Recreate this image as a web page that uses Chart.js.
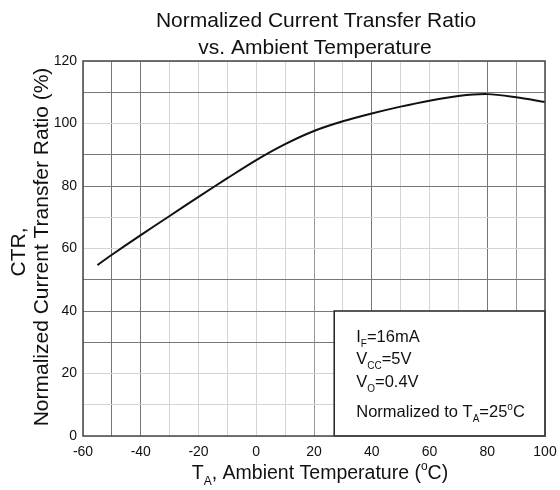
<!DOCTYPE html>
<html lang="en">
<head>
    <meta charset="UTF-8">
    <title>Normalized Current Transfer Ratio vs. Ambient Temperature</title>
    <script src="https://cdn.jsdelivr.net/npm/chart.js"></script>
    <style>
        html, body { margin: 0; padding: 0; background: #fff; }
        #wrap { width: 560px; height: 490px; position: relative; }
    </style>
</head>
<body>
    <div id="wrap"><canvas id="ctrChart"></canvas></div>
    <script>
        // Data
        const temps = [-55, -50, -40, -30, -20, -10, 0, 10, 20, 30, 40, 50, 60, 70, 80, 90, 100];
        const ctrValues = [54.7, 58, 64.3, 70.4, 76.5, 82.5, 88.3, 93.4, 97.6, 100.7, 103.2, 105.4, 107.3, 108.8, 109.4, 108.4, 106.9];
        const xTicks = [-60, -40, -20, 0, 20, 40, 60, 80, 100];
        const yTicks = [0, 20, 40, 60, 80, 100, 120];
        const darkX = [-50, -40, 40, 80];
        const midX = [20, 90];
        const darkY = [30, 40, 50, 80, 90, 110];

        const FONT = '"Liberation Sans", Arial, sans-serif';
        const TXT = '#111';

        // draws text with subscripts/superscripts: parts = [[text, 'n'|'sub'|'sup'], ...]
        function richText(ctx, parts, x, y, size, align) {
            let total = 0;
            parts.forEach(p => {
                ctx.font = (p[1] === 'n' ? size : Math.round(size * 0.6)) + 'px ' + FONT;
                total += ctx.measureText(p[0]).width;
            });
            let cx = align === 'center' ? x - total / 2 : x;
            ctx.textAlign = 'left';
            ctx.textBaseline = 'alphabetic';
            parts.forEach(p => {
                const small = p[1] !== 'n';
                ctx.font = (small ? Math.round(size * 0.6) : size) + 'px ' + FONT;
                let dy = 0;
                if (p[1] === 'sub') dy = size * 0.32;
                if (p[1] === 'sup') dy = -size * 0.45;
                ctx.fillText(p[0], cx, y + dy);
                cx += ctx.measureText(p[0]).width;
            });
        }

        const decorPlugin = {
            id: 'decor',
            afterDraw(chart) {
                const ctx = chart.ctx;
                const a = chart.chartArea;
                ctx.save();
                ctx.fillStyle = TXT;

                // title
                ctx.font = '21px ' + FONT;
                ctx.textAlign = 'center';
                ctx.textBaseline = 'alphabetic';
                const cx = (a.left + a.right) / 2;
                ctx.fillText('Normalized Current Transfer Ratio', cx + 2, 27);
                ctx.fillText('vs. Ambient Temperature', cx + 1, 54);

                // y axis title (two lines, rotated)
                ctx.save();
                ctx.translate(25, 252);
                ctx.rotate(-Math.PI / 2);
                ctx.font = '21px ' + FONT;
                ctx.textAlign = 'center';
                ctx.fillText('CTR,', 0, 0);
                ctx.restore();
                ctx.save();
                ctx.translate(48, 247);
                ctx.rotate(-Math.PI / 2);
                ctx.font = '21px ' + FONT;
                ctx.textAlign = 'center';
                ctx.fillText('Normalized Current Transfer Ratio (%)', 0, 0);
                ctx.restore();

                // x axis title
                richText(ctx, [['T', 'n'], ['A', 'sub'], [', Ambient Temperature (', 'n'], ['o', 'sup'], ['C)', 'n']],
                    cx + 6, 479, 19.5, 'center');

                // condition box
                const bx = chart.scales.x.getPixelForValue(27);
                const by = chart.scales.y.getPixelForValue(40);
                ctx.fillStyle = '#fff';
                ctx.fillRect(bx, by, a.right - bx, a.bottom - by);
                ctx.strokeStyle = '#222';
                ctx.lineWidth = 1.5;
                ctx.strokeRect(bx, by, a.right - bx, a.bottom - by);
                ctx.fillStyle = TXT;
                const tx = bx + 22;
                richText(ctx, [['I', 'n'], ['F', 'sub'], ['=16mA', 'n']], tx, 342, 16.5, 'left');
                richText(ctx, [['V', 'n'], ['CC', 'sub'], ['=5V', 'n']], tx, 364, 16.5, 'left');
                richText(ctx, [['V', 'n'], ['O', 'sub'], ['=0.4V', 'n']], tx, 387, 16.5, 'left');
                richText(ctx, [['Normalized to T', 'n'], ['A', 'sub'], ['=25', 'n'], ['o', 'sup'], ['C', 'n']], tx, 417, 16.5, 'left');

                // plot frame
                ctx.strokeStyle = '#444';
                ctx.lineWidth = 1.5;
                ctx.strokeRect(a.left, a.top, a.right - a.left, a.bottom - a.top);
                ctx.restore();
            }
        };

        function gridColor(dark, mid) {
            return c => {
                const v = c.tick ? c.tick.value : null;
                if (dark.includes(v)) return '#777';
                if (mid.includes(v)) return '#999';
                return '#d4d4d4';
            };
        }

        new Chart(document.getElementById('ctrChart'), {
            type: 'line',
            data: {
                datasets: [{
                    data: temps.map((t, i) => ({ x: t, y: ctrValues[i] })),
                    borderColor: '#111',
                    borderWidth: 2,
                    pointRadius: 0,
                    fill: false,
                    tension: 0.3
                }]
            },
            options: {
                responsive: true,
                maintainAspectRatio: false,
                animation: false,
                layout: { padding: { top: 61, right: 15, left: 0, bottom: 0 } },
                plugins: {
                    legend: { display: false },
                    tooltip: { enabled: false }
                },
                scales: {
                    x: {
                        type: 'linear',
                        min: -60,
                        max: 100,
                        afterBuildTicks: s => {
                            const t = [];
                            for (let v = -60; v <= 100; v += 10) t.push({ value: v });
                            s.ticks = t;
                        },
                        afterFit: s => {
                            s.height = 54;
                            s.paddingLeft = 0;
                            s.paddingRight = 0;
                        },
                        grid: { color: gridColor(darkX, midX), lineWidth: 1, drawTicks: false },
                        border: { display: false },
                        ticks: {
                            autoSkip: false,
                            maxRotation: 0,
                            padding: 8,
                            color: TXT,
                            font: { family: FONT, size: 14 },
                            callback: v => xTicks.includes(v) ? String(v) : ''
                        }
                    },
                    y: {
                        min: 0,
                        max: 120,
                        afterBuildTicks: s => {
                            const t = [];
                            for (let v = 0; v <= 120; v += 10) t.push({ value: v });
                            s.ticks = t;
                        },
                        afterFit: s => {
                            s.width = 83;
                            s.paddingTop = 0;
                            s.paddingBottom = 0;
                        },
                        grid: { color: gridColor(darkY, []), lineWidth: 1, drawTicks: false },
                        border: { display: false },
                        ticks: {
                            autoSkip: false,
                            padding: 6,
                            color: TXT,
                            font: { family: FONT, size: 14 },
                            callback: v => yTicks.includes(v) ? String(v) : ''
                        }
                    }
                }
            },
            plugins: [decorPlugin]
        });
    </script>
</body>
</html>
